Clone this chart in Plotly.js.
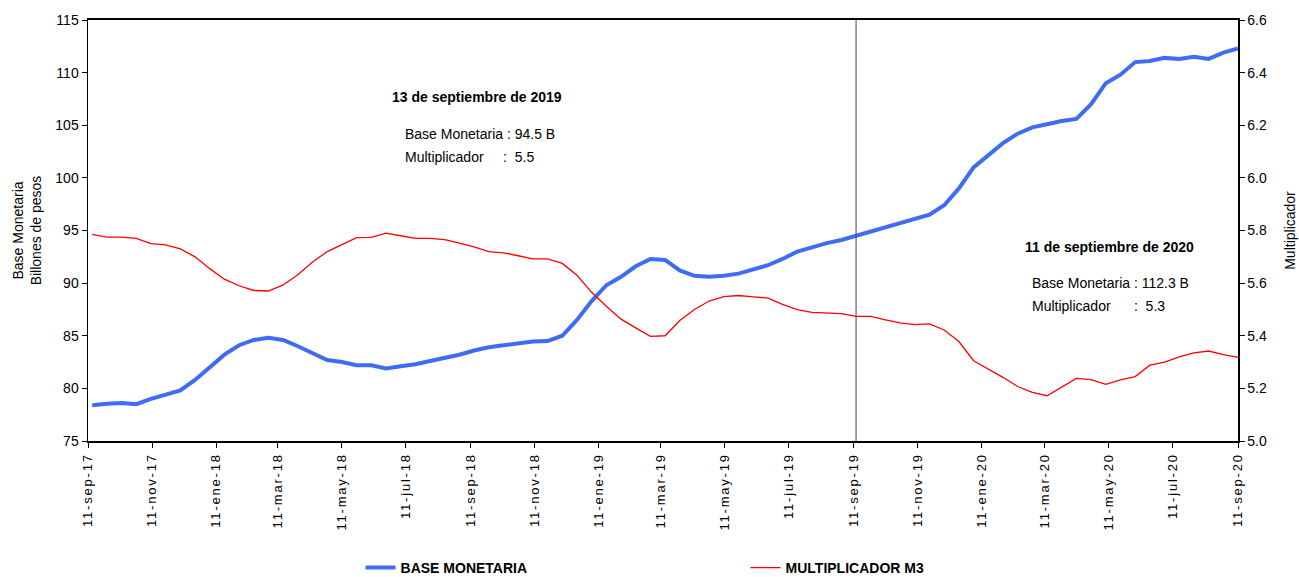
<!DOCTYPE html>
<html>
<head>
<meta charset="utf-8">
<script src="https://cdn.plot.ly/plotly-3.0.1.min.js"></script>
<style>
html,body{margin:0;padding:0;background:#fff;}
#chart{width:1299px;height:577px;}
.xtick text{letter-spacing:1.8px;}
</style>
</head>
<body>
<div id="chart"></div>
<script>
const dates = ["2017-09-15","2017-09-29","2017-10-13","2017-10-27","2017-11-10","2017-11-24","2017-12-08","2017-12-22",
"2018-01-05","2018-01-19","2018-02-02","2018-02-16","2018-03-02","2018-03-16","2018-03-30","2018-04-13","2018-04-27",
"2018-05-11","2018-05-25","2018-06-08","2018-06-22","2018-07-06","2018-07-20","2018-08-03","2018-08-17","2018-08-31",
"2018-09-14","2018-09-28","2018-10-12","2018-10-26","2018-11-09","2018-11-23","2018-12-07","2018-12-21",
"2019-01-04","2019-01-18","2019-02-01","2019-02-15","2019-03-01","2019-03-15","2019-03-29","2019-04-12","2019-04-26",
"2019-05-10","2019-05-24","2019-06-07","2019-06-21","2019-07-05","2019-07-19","2019-08-02","2019-08-16","2019-08-30",
"2019-09-13","2019-09-27","2019-10-11","2019-10-25","2019-11-08","2019-11-22","2019-12-06","2019-12-20",
"2020-01-03","2020-01-17","2020-01-31","2020-02-14","2020-02-28","2020-03-13","2020-03-27","2020-04-10","2020-04-24",
"2020-05-08","2020-05-22","2020-06-05","2020-06-19","2020-07-03","2020-07-17","2020-07-31","2020-08-14","2020-08-28",
"2020-09-11"];

const baseMonetaria = [78.4,78.55,78.6,78.5,79.0,79.4,79.8,80.8,
82.0,83.2,84.1,84.6,84.8,84.6,84.0,83.3,82.7,
82.5,82.2,82.2,81.9,82.1,82.3,82.6,82.9,83.2,
83.6,83.9,84.1,84.3,84.45,84.5,85.0,86.5,
88.3,89.8,90.6,91.6,92.3,92.2,91.2,90.7,90.6,
90.7,90.9,91.3,91.7,92.3,93.0,93.4,93.8,94.1,
94.5,94.9,95.35,95.7,96.1,96.5,97.4,99.0,
101.0,102.2,103.3,104.2,104.8,105.1,105.4,105.6,107.0,
109.0,109.8,111.0,111.1,111.4,111.3,111.5,111.3,111.9,
112.3];

const multiplicador = [5.785,5.775,5.775,5.77,5.75,5.745,5.73,5.70,
5.655,5.615,5.59,5.572,5.570,5.593,5.632,5.68,5.72,
5.745,5.773,5.774,5.79,5.78,5.77,5.77,5.765,5.752,
5.738,5.72,5.715,5.704,5.692,5.692,5.675,5.63,
5.565,5.512,5.463,5.43,5.398,5.40,5.458,5.50,5.532,
5.549,5.553,5.548,5.543,5.519,5.499,5.489,5.486,5.484,
5.474,5.474,5.46,5.449,5.442,5.445,5.422,5.378,
5.305,5.274,5.242,5.207,5.185,5.172,5.205,5.238,5.233,
5.215,5.232,5.245,5.288,5.30,5.32,5.335,5.342,5.328,
5.318];

const tickDates = ["2017-09-11","2017-11-11","2018-01-11","2018-03-11","2018-05-11","2018-07-11","2018-09-11","2018-11-11",
"2019-01-11","2019-03-11","2019-05-11","2019-07-11","2019-09-11","2019-11-11","2020-01-11","2020-03-11","2020-05-11",
"2020-07-11","2020-09-11"];
const tickLabels = ["11-sep-17","11-nov-17","11-ene-18","11-mar-18","11-may-18","11-jul-18","11-sep-18","11-nov-18",
"11-ene-19","11-mar-19","11-may-19","11-jul-19","11-sep-19","11-nov-19","11-ene-20","11-mar-20","11-may-20",
"11-jul-20","11-sep-20"];

const markerDate = "2019-09-13";
const note1Title = "13 de septiembre de 2019";
const note1Lines = ["Base Monetaria : 94.5 B", "Multiplicador     :  5.5"];
const note2Title = "11 de septiembre de 2020";
const note2Lines = ["Base Monetaria : 112.3 B", "Multiplicador      :  5.3"];

const sans = "'Liberation Sans', Arial, sans-serif";

const traces = [
  {x: dates, y: baseMonetaria, type: 'scatter', mode: 'lines', name: '<b>BASE MONETARIA</b>',
   line: {color: '#3F6CF4', width: 4}, yaxis: 'y'},
  {x: dates, y: multiplicador, type: 'scatter', mode: 'lines', name: '<b>MULTIPLICADOR M3</b>',
   line: {color: '#FF0000', width: 1.3}, yaxis: 'y2'}
];

const ann = (px, py, text, anchor, size) => ({xref: 'paper', yref: 'paper', x: (px-88)/1150, y: (441-py)/421,
  text: text, showarrow: false, xanchor: anchor, yanchor: 'middle', font: {family: sans, size: size, color: '#000'}});

const layout = {
  width: 1299, height: 577,
  margin: {l: 88, r: 61, t: 20, b: 136},
  paper_bgcolor: '#fff', plot_bgcolor: '#fff',
  showlegend: true,
  legend: {orientation: 'h', x: 0.237, xref: 'paper', y: 0.0156, yref: 'container', xanchor: 'left', yanchor: 'middle',
           entrywidth: 340, entrywidthmode: 'pixels', itemwidth: 30,
           font: {family: sans, size: 14, color: '#000'}, bgcolor: 'rgba(0,0,0,0)'},
  xaxis: {type: 'date', range: ['2017-09-11', '2020-09-11'], automargin: false,
          tickvals: tickDates, ticktext: tickLabels, tickangle: -90,
          ticks: 'outside', ticklen: 5, tickcolor: '#000', tickwidth: 1,
          showline: true, linecolor: '#000', linewidth: 2, mirror: true,
          showgrid: false, zeroline: false,
          tickfont: {family: sans, size: 13, color: '#000'}},
  yaxis: {range: [75, 115], dtick: 5, ticks: 'outside', ticklen: 5, tickcolor: '#000', automargin: false,
          showline: true, linecolor: '#000', linewidth: 1.5, showgrid: false, zeroline: false,
          tickfont: {family: sans, size: 14, color: '#000'},
          title: {text: 'Base Monetaria<br>Billones de pesos', standoff: 10,
                  font: {family: sans, size: 14, color: '#000'}}},
  yaxis2: {range: [5.0, 6.6], dtick: 0.2, tickformat: '.1f', overlaying: 'y', side: 'right', automargin: false,
           ticks: 'outside', ticklen: 5, tickcolor: '#000',
           showline: true, linecolor: '#000', linewidth: 1.5, showgrid: false, zeroline: false,
           tickfont: {family: sans, size: 14, color: '#000'},
           title: {text: 'Multiplicador', standoff: 19,
                   font: {family: sans, size: 14, color: '#000'}}},
  shapes: [{type: 'line', xref: 'x', yref: 'paper', x0: markerDate, x1: markerDate, y0: 0, y1: 1,
            line: {color: '#444', width: 1}}],
  annotations: [
    ann(477, 97, '<b>' + note1Title + '</b>', 'center', 14),
    ann(403, 134, note1Lines[0], 'left', 14),
    ann(403, 157, note1Lines[1], 'left', 14),
    ann(1109, 247, '<b>' + note2Title + '</b>', 'center', 14),
    ann(1030, 283, note2Lines[0], 'left', 14),
    ann(1030, 306, note2Lines[1], 'left', 14)
  ]
};

Plotly.newPlot('chart', traces, layout, {displayModeBar: false, staticPlot: true});
</script>
</body>
</html>
